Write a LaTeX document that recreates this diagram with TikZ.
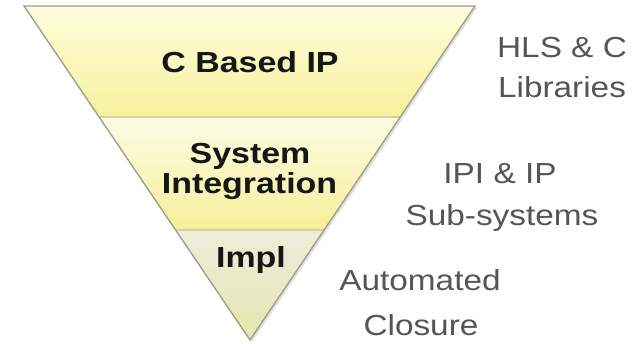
\documentclass[tikz,border=0pt]{standalone}
\usepackage{fontspec}
\setmainfont{Liberation Sans}
\newfontfamily\widesans[FakeStretch=1.15]{Liberation Sans}
\newfontfamily\widebold[FakeStretch=1.17]{Liberation Sans Bold}
\usetikzlibrary{calc}

\definecolor{bandAtop}{HTML}{FDFDDC}
\definecolor{bandAbot}{HTML}{F7F19E}
\definecolor{bandBtop}{HTML}{FCFCE6}
\definecolor{bandBbot}{HTML}{F6EF98}
\definecolor{bandCtop}{HTML}{EEEDDC}
\definecolor{bandCbot}{HTML}{E4E6AE}
\definecolor{rimcol}{HTML}{9C9C84}
\definecolor{sepcol}{HTML}{D6D19A}
\definecolor{tiertext}{HTML}{161616}
\definecolor{notetext}{HTML}{555555}

\tikzset{
  rim/.style={draw=rimcol, line width=1.3pt, line join=miter},
  divider/.style={draw=sepcol, line width=1.2pt},
  tierlabel/.style={anchor=base, inner sep=0pt, text=tiertext,
    font=\widebold\fontsize{29}{29}\selectfont},
  notelabel/.style={anchor=base, inner sep=0pt, text=notetext,
    font=\widesans\fontsize{29}{29}\selectfont}
}

\begin{document}
\begin{tikzpicture}[x=1pt, y=-1pt]
\useasboundingbox (0,0) rectangle (636,343);

% corners of the inverted triangle
\coordinate (tl) at (24,6);
\coordinate (tr) at (475,6);
\coordinate (ap) at (250,340);
% where the two dividers meet the slanted sides
\coordinate (l1) at ($(tl)!0.3323!(ap)$);
\coordinate (r1) at ($(tr)!0.3323!(ap)$);
\coordinate (l2) at ($(tl)!0.6707!(ap)$);
\coordinate (r2) at ($(tr)!0.6707!(ap)$);

% soft shadow
\fill[black, opacity=0.12] ($(tl)+(2,2)$) -- ($(tr)+(2,2)$) -- ($(ap)+(2,2)$) -- cycle;

% the three bands
\shade[top color=bandAtop, bottom color=bandAbot] (tl) -- (tr) -- (r1) -- (l1) -- cycle;
\shade[top color=bandBtop, bottom color=bandBbot] (l1) -- (r1) -- (r2) -- (l2) -- cycle;
\shade[top color=bandCtop, bottom color=bandCbot] (l2) -- (r2) -- (ap) -- cycle;

\draw[divider] (l1) -- (r1);
\draw[divider] (l2) -- (r2);
\draw[rim] (tl) -- (tr) -- (ap) -- cycle;

% tier names
\node[tierlabel] (cip) at (250,72) {C Based IP};
\node[tierlabel] (sys) at (250,163) {System};
\node[tierlabel] (integ) at (249.5,193) {Integration};
\node[tierlabel] (impl) at (251,267) {Impl};

% notes beside each tier
\node[notelabel] (hls) at (562,57) {HLS \& C};
\node[notelabel] (libs) at (562,97) {Libraries};
\node[notelabel] (ipi) at (500,183) {IPI \& IP};
\node[notelabel] (subs) at (502,225) {Sub-systems};
\node[notelabel] (auto) at (420,290) {Automated};
\node[notelabel] (clos) at (421,335) {Closure};
\end{tikzpicture}
\end{document}
